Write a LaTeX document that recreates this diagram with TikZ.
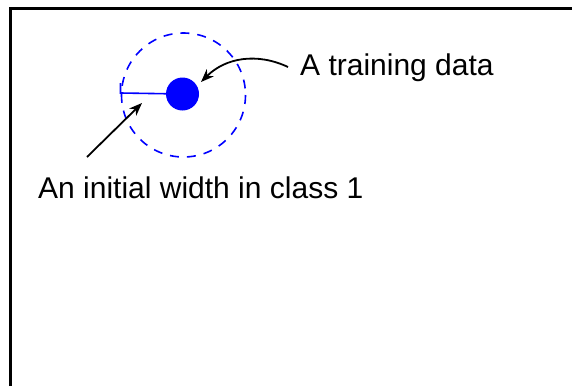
\documentclass[tikz,border=0pt]{standalone}
\usepackage{fontspec}
\setmainfont{Liberation Sans}
\usetikzlibrary{arrows.meta}
\begin{document}
\begin{tikzpicture}[x=1pt,y=-1pt,
  lbl/.style={inner sep=0pt,anchor=west,font=\fontsize{30}{36}\selectfont},
  pointer/.style={line width=1.8pt,-{Stealth[length=13pt,width=10pt,inset=4pt]}}]
\useasboundingbox (0,0) rectangle (572,386);
\draw[line width=2.6pt] (10.5,386) -- (10.5,8.7) -- (572,8.7);
\draw[blue,line width=1.6pt,dash pattern=on 9pt off 8pt] (183.5,95) circle[radius=62];
\node[circle,fill=blue,minimum size=33pt,inner sep=0pt] (dot) at (182.5,94) {};
\coordinate (edge) at (120.5,93);
\draw[blue,line width=1.6pt] (120.5,83) -- (edge) -- (dot.center);
\node[lbl] (t1) at (300,68) {A training data};
\node[lbl] (t2) at (38,188) {An initial width in class 1};
\coordinate (s1) at (288,67);
\coordinate (e1) at (201,82);
\draw[pointer] (s1) to[bend right=35] (e1);
\coordinate (s2) at (87,157);
\coordinate (e2) at (142,103);
\draw[pointer] (s2) -- (e2);
\end{tikzpicture}
\end{document}
